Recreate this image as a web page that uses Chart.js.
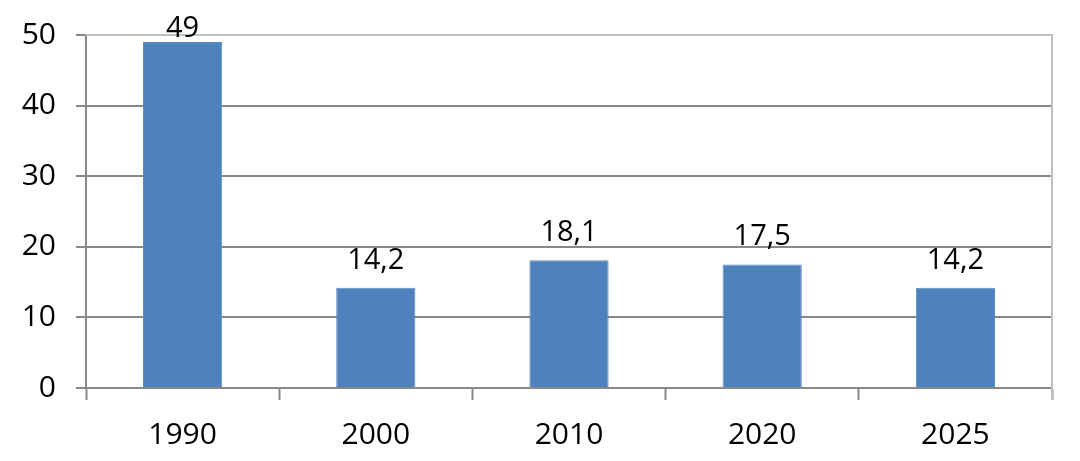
<!DOCTYPE html>
<html>
<head>
<meta charset="utf-8">
<style>
  html, body { margin: 0; padding: 0; background: #fff; }
  #wrap { width: 1080px; height: 461px; }
</style>
<script src="https://cdn.jsdelivr.net/npm/chart.js@4/dist/chart.umd.min.js"></script>
</head>
<body>
<div id="wrap"><canvas id="myChart"></canvas></div>
<script>
const years = ["1990", "2000", "2010", "2020", "2025"];
const values = [49, 14.2, 18.1, 17.5, 14.2];
const yTicks = [0, 10, 20, 30, 40, 50];

const fontFace = "'Open Sans', 'Liberation Sans', sans-serif";

// plot border (top + right) in light gray, like the spreadsheet frame
const plotFrame = {
  id: "plotFrame",
  beforeDatasetsDraw(chart) {
    const { ctx, chartArea: a } = chart;
    ctx.save();
    ctx.strokeStyle = "#bfbfbf";
    ctx.lineWidth = 2;
    ctx.beginPath();
    ctx.moveTo(a.left, a.top);
    ctx.lineTo(a.right, a.top);
    ctx.lineTo(a.right, a.bottom + 12);
    ctx.stroke();
    ctx.restore();
  },
};

// value labels above each bar, decimal comma
const valueLabels = {
  id: "valueLabels",
  afterDatasetsDraw(chart) {
    const { ctx, chartArea } = chart;
    const meta = chart.getDatasetMeta(0);
    ctx.save();
    ctx.font = "29px " + fontFace;
    ctx.fillStyle = "#000";
    ctx.textAlign = "center";
    ctx.textBaseline = "alphabetic";
    meta.data.forEach((bar, i) => {
      const txt = String(values[i]).replace(".", ",");
      let y = bar.y - 19;
      if (y < chartArea.top + 2) y = chartArea.top + 2;
      ctx.fillText(txt, bar.x, y);
    });
    ctx.restore();
  },
};

new Chart("myChart", {
  type: "bar",
  data: {
    labels: years,
    datasets: [
      {
        data: values,
        backgroundColor: "#4f81bd",
        borderColor: "#5b8ac2",
        borderWidth: 1,
        categoryPercentage: 1,
        barPercentage: 0.41,
      },
    ],
  },
  options: {
    responsive: true,
    maintainAspectRatio: false,
    animation: false,
    layout: { padding: { top: 33, right: 28, left: 0, bottom: 0 } },
    plugins: {
      legend: { display: false },
      tooltip: { enabled: false },
    },
    scales: {
      x: {
        grid: {
          offset: true,
          drawOnChartArea: false,
          drawTicks: true,
          tickLength: 12,
          tickWidth: 2,
          tickColor: "#888",
        },
        border: { color: "#888", width: 2 },
        ticks: {
          color: "#000",
          font: { family: fontFace, size: 30 },
          padding: 17,
        },
        afterFit(scale) {
          scale.height = 461 - 388;
        },
      },
      y: {
        min: 0,
        max: 50,
        afterBuildTicks(scale) {
          scale.ticks = yTicks.map((v) => ({ value: v }));
        },
        grid: {
          color: (c) => (c.tick && c.tick.value === 50 ? "#bfbfbf" : "#888"),
          lineWidth: 2,
          tickLength: 10,
          tickColor: "#888",
          tickWidth: 2,
        },
        border: { color: "#888", width: 2 },
        ticks: {
          color: "#000",
          font: { family: fontFace, size: 30, lineHeight: 1 },
          padding: 20,
        },
        afterFit(scale) {
          scale.width = 86;
        },
      },
    },
  },
  plugins: [plotFrame, valueLabels],
});
</script>
</body>
</html>
